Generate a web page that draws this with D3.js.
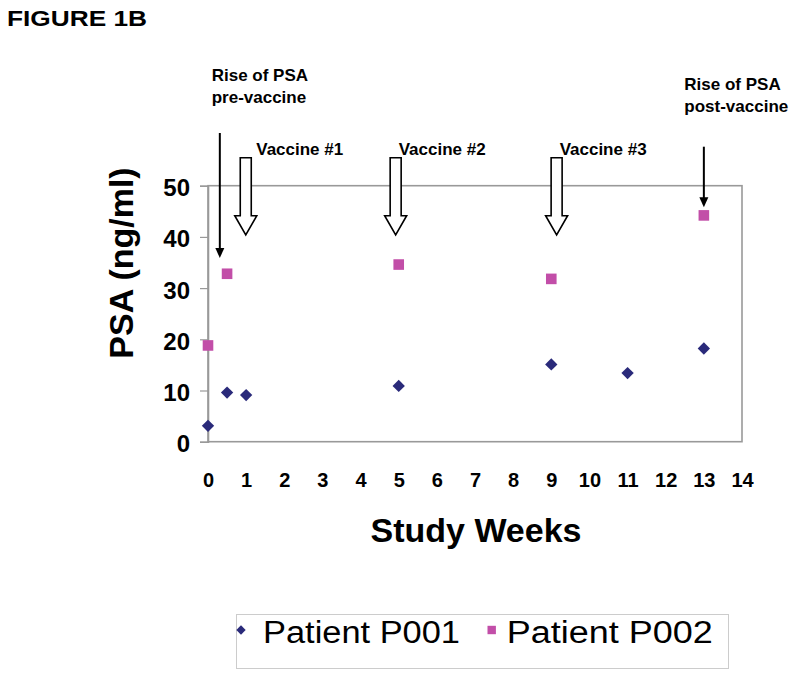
<!DOCTYPE html>
<html>
<head>
<meta charset="utf-8">
<script src="https://cdn.jsdelivr.net/npm/d3@7"></script>
<style>
  html, body { margin: 0; padding: 0; background: #fff; }
  svg { display: block; font-family: "Liberation Sans", Arial, Helvetica, sans-serif; }
</style>
</head>
<body>
<svg id="chart" width="800" height="677"></svg>
<script>
// ---- data ----
const weeksP001 = [0, 0.5, 1, 5, 9, 11, 13];
const psaP001   = [3.1, 9.6, 9.1, 10.9, 15.1, 13.4, 18.2];
const weeksP002 = [0, 0.5, 5, 9, 13];
const psaP002   = [18.8, 32.8, 34.6, 31.8, 44.2];
const xTicks = [0,1,2,3,4,5,6,7,8,9,10,11,12,13,14];
const yTicks = [0,10,20,30,40,50];
const seriesNames = ["Patient P001", "Patient P002"];
const vaccineLabels = ["Vaccine #1", "Vaccine #2", "Vaccine #3"];
const vaccineWeeks  = [0.99, 4.92, 9.14];
const riseLabels = [["Rise of PSA", "pre-vaccine"], ["Rise of PSA", "post-vaccine"]];
const riseWeeks  = [0.31, 13];

// ---- layout ----
const svg = d3.select("#chart");
const X0 = 208, X1 = 742, Y0 = 441.7, Y1 = 185.7;
const x = d3.scaleLinear().domain([0, 14]).range([X0, X1]);
const y = d3.scaleLinear().domain([0, 50]).range([Y0, Y1]);
const navy = "#2a2a7a", pink = "#c24ea8";

// title
svg.append("text").attr("x", 7).attr("y", 26)
  .attr("font-size", 22).attr("font-weight", "bold")
  .attr("textLength", 140).attr("lengthAdjust", "spacingAndGlyphs")
  .text("FIGURE 1B");

// plot box
svg.append("rect").attr("x", X0).attr("y", Y1).attr("width", X1 - X0).attr("height", Y0 - Y1)
  .attr("fill", "none").attr("stroke", "#999").attr("stroke-width", 1.6);

// y axis
const ya = svg.append("g").attr("transform", `translate(${X0},0)`)
  .call(d3.axisLeft(y).tickValues(yTicks).tickSize(8).tickPadding(10).tickFormat(d3.format("d")));
ya.select(".domain").attr("stroke", "#999").attr("stroke-width", 1.6);
ya.selectAll(".tick line").attr("stroke", "#999").attr("stroke-width", 1.2);
ya.selectAll(".tick text").attr("font-size", 24).attr("font-weight", "bold")
  .attr("fill", "#000").attr("dy", "0.42em").attr("font-family", "Liberation Sans, Arial, sans-serif");

// x axis
const xa = svg.append("g").attr("transform", `translate(0,${Y0})`)
  .call(d3.axisBottom(x).tickValues(xTicks).tickSize(0).tickPadding(31).tickFormat(d3.format("d")));
xa.select(".domain").remove();
xa.selectAll(".tick text").attr("font-size", 20).attr("font-weight", "bold")
  .attr("fill", "#000").attr("font-family", "Liberation Sans, Arial, sans-serif");

// axis titles
svg.append("text").attr("x", 476).attr("y", 541.7).attr("text-anchor", "middle")
  .attr("font-size", 34).attr("font-weight", "bold").text("Study Weeks");
svg.append("text").attr("transform", "translate(133,263) rotate(-90)").attr("text-anchor", "middle")
  .attr("font-size", 34).attr("font-weight", "bold").text("PSA (ng/ml)");

// data points
const p1 = weeksP001.map((w, i) => ({w, v: psaP001[i]}));
const p2 = weeksP002.map((w, i) => ({w, v: psaP002[i]}));
svg.append("g").selectAll("path").data(p1).join("path")
  .attr("d", d3.symbol().type(d3.symbolSquare).size(76))
  .attr("transform", d => `translate(${x(d.w)},${y(d.v)}) rotate(45)`)
  .attr("fill", navy);
svg.append("g").selectAll("rect").data(p2).join("rect")
  .attr("x", d => x(d.w) - 5.3).attr("y", d => y(d.v) - 5.3)
  .attr("width", 10.6).attr("height", 10.6).attr("fill", pink);

// hollow vaccine arrows
const shaftTop = 157.7, headStart = 215.7, tip = 235;
vaccineWeeks.forEach((w, i) => {
  const cx = x(w);
  const pts = [
    [cx - 5.5, shaftTop], [cx + 5.5, shaftTop], [cx + 5.5, headStart], [cx + 11, headStart],
    [cx, tip], [cx - 11, headStart], [cx - 5.5, headStart]
  ];
  svg.append("path").attr("d", d3.line()(pts) + "Z")
    .attr("fill", "#fff").attr("stroke", "#000").attr("stroke-width", 1.6)
    .attr("stroke-linejoin", "miter");
  svg.append("text").attr("x", cx + (i === 0 ? 10.5 : 3)).attr("y", 155)
    .attr("font-size", 17).attr("font-weight", "bold").text(vaccineLabels[i]);
});

// black "rise" arrows
const riseTop = [133, 146.7], riseTip = [258, 207.3];
const riseText = [{x: 211.7, y: 80.7}, {x: 684.3, y: 90}];
riseWeeks.forEach((w, i) => {
  const cx = x(w);
  svg.append("line").attr("x1", cx).attr("x2", cx).attr("y1", riseTop[i]).attr("y2", riseTip[i] - 8)
    .attr("stroke", "#000").attr("stroke-width", 2);
  svg.append("path").attr("d", d3.line()([[cx - 4.5, riseTip[i] - 10], [cx + 4.5, riseTip[i] - 10], [cx, riseTip[i]]]) + "Z")
    .attr("fill", "#000");
  riseLabels[i].forEach((t, j) => {
    svg.append("text").attr("x", riseText[i].x).attr("y", riseText[i].y + j * 22)
      .attr("font-size", 17).attr("font-weight", "bold").text(t);
  });
});

// legend
const lg = svg.append("g");
lg.append("rect").attr("x", 236.5).attr("y", 614.5).attr("width", 492).attr("height", 54)
  .attr("fill", "#fff").attr("stroke", "#ccc").attr("stroke-width", 1);
lg.append("path").attr("d", d3.symbol().type(d3.symbolSquare).size(44))
  .attr("transform", "translate(241,630) rotate(45)").attr("fill", navy);
lg.append("text").attr("x", 263).attr("y", 643.3).attr("font-size", 31)
  .attr("textLength", 197).attr("lengthAdjust", "spacingAndGlyphs").text(seriesNames[0]);
lg.append("rect").attr("x", 491.7 - 4.2).attr("y", 630 - 4.2).attr("width", 8.4).attr("height", 8.4).attr("fill", pink);
lg.append("text").attr("x", 506.7).attr("y", 643.3).attr("font-size", 31)
  .attr("textLength", 206).attr("lengthAdjust", "spacingAndGlyphs").text(seriesNames[1]);
</script>
</body>
</html>
